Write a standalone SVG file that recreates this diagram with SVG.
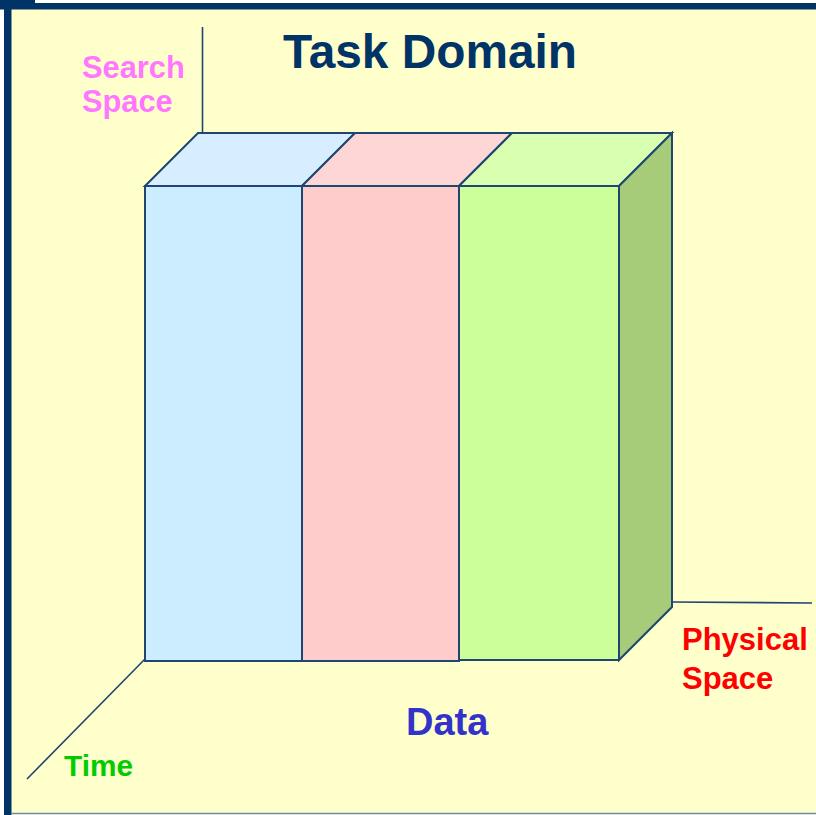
<svg xmlns="http://www.w3.org/2000/svg" width="816" height="815" viewBox="0 0 816 815">
<style>
.edge{stroke:#1F4670;stroke-width:2;stroke-linejoin:miter;}
.axis{stroke:#1F4670;stroke-width:1.6;fill:none;}
text{font-family:"Liberation Sans",Arial,sans-serif;font-weight:bold;}
</style>
<rect x="0" y="0" width="816" height="815" fill="#FFFFFF"/>
<rect x="11" y="9" width="805" height="804" fill="#FFFFCC"/>
<path d="M0 0H35V3H816V9.5H11.5V815H4V9.5H0Z" fill="#003366"/>
<line x1="11" y1="813.5" x2="816" y2="813.5" stroke="#6F8CA5" stroke-width="1.5"/>
<g id="axes">
<line class="axis" x1="202.5" y1="27" x2="202.5" y2="134"/>
<line class="axis" x1="145" y1="659" x2="27" y2="779"/>
<line class="axis" x1="672" y1="602" x2="812" y2="603"/>
</g>
<g id="blue-block">
<polygon class="edge" points="145,186 198,133 355,133 302,186" fill="#D6EEFF"/>
<rect class="edge" x="145" y="186" width="157" height="475" fill="#CCECFF"/>
</g>
<g id="pink-block">
<polygon class="edge" points="302,186 355,133 512,133 459,186" fill="#FFD6D6"/>
<rect class="edge" x="302" y="186" width="157" height="475" fill="#FFCCCC"/>
</g>
<g id="green-block">
<polygon class="edge" points="459,186 512,133 672,133 619,186" fill="#D9FFB0"/>
<polygon class="edge" points="619,186 672,133 672,607 619,660" fill="#A6CC7A"/>
<rect class="edge" x="459" y="186" width="160" height="474" fill="#CCFF99"/>
</g>
<g id="labels">
<text x="283" y="68" font-size="47.8" fill="#003366">Task Domain</text>
<text x="82" y="78" font-size="30.8" fill="#FF77FF">Search</text>
<text x="82" y="112" font-size="30.8" fill="#FF77FF">Space</text>
<text x="682" y="650" font-size="31" fill="#FF0000">Physical</text>
<text x="682" y="689" font-size="31" fill="#FF0000">Space</text>
<text x="406" y="735" font-size="38" fill="#3333CC">Data</text>
<text x="64" y="776" font-size="29.8" fill="#00CC00">Time</text>
</g>
</svg>
